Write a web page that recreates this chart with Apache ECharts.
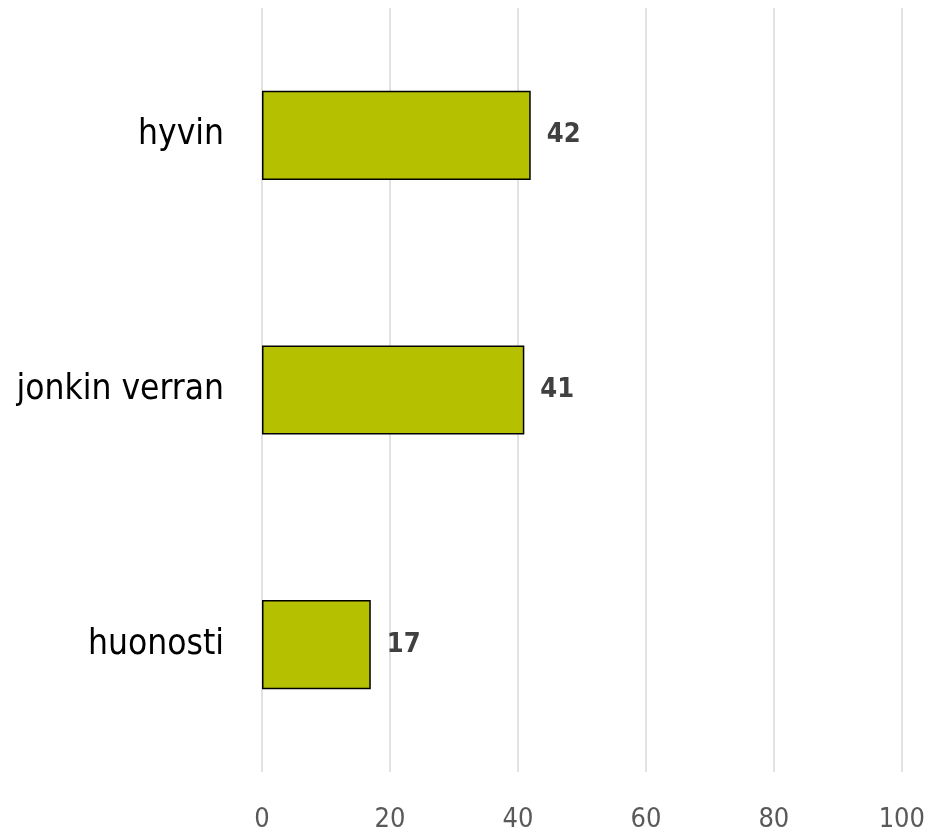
<!DOCTYPE html>
<html><head><meta charset="utf-8">
<script src="https://cdn.jsdelivr.net/npm/echarts@6/dist/echarts.min.js"></script>
<style>html,body{margin:0;padding:0;background:#fff}#c{width:928px;height:838px}</style>
</head><body><div id="c"></div>
<script>
const categories = ['hyvin', 'jonkin verran', 'huonosti'];
const values = [42, 41, 17];
const FONT = '"DejaVu Sans Condensed", "DejaVu Sans", sans-serif';
const chart = echarts.init(document.getElementById('c'));
chart.setOption({
  animation: false,
  grid: { left: 262, right: 25, top: 8, bottom: 66 },
  xAxis: {
    type: 'value', min: 0, max: 100, interval: 20,
    axisLine: { show: false }, axisTick: { show: false },
    splitLine: { lineStyle: { color: '#d9d9d9', width: 1.5 } },
    axisLabel: { color: '#595959', fontSize: 27, fontFamily: FONT, margin: 34 }
  },
  yAxis: {
    type: 'category', data: categories, inverse: true,
    axisLine: { show: false }, axisTick: { show: false },
    axisLabel: { color: '#000', fontSize: 35, fontFamily: FONT, margin: 38 }
  },
  series: [{
    type: 'bar', data: values, barWidth: '35%',
    itemStyle: { color: '#b5c000', borderColor: '#000', borderWidth: 1.5 },
    label: { show: true, position: 'right', distance: 16, color: '#404040', fontSize: 27, fontWeight: 'bold', fontFamily: FONT, padding: [4, 0, 0, 0] }
  }]
});
</script></body></html>
